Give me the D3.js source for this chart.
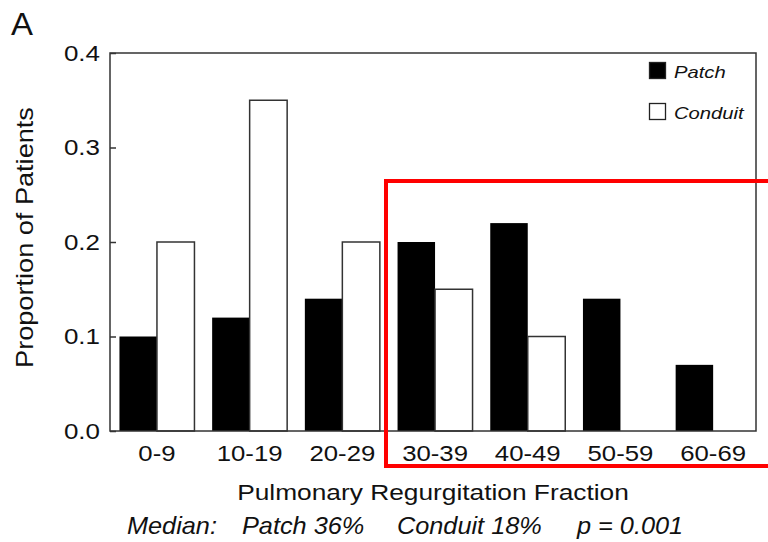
<!DOCTYPE html>
<html>
<head>
<meta charset="utf-8">
<script src="https://cdn.jsdelivr.net/npm/d3@7"></script>
<style>
  html, body { margin: 0; padding: 0; background: #fff; }
  svg { display: block; }
  text { font-family: "Liberation Sans", Arial, Helvetica, sans-serif; fill: #111; }
</style>
</head>
<body>
<svg id="chart" width="768" height="542"></svg>
<script>
// Pulmonary regurgitation fraction bins
const categories = ["0-9", "10-19", "20-29", "30-39", "40-49", "50-59", "60-69"];
// Proportion of patients per bin
const patchValues   = [0.10, 0.12, 0.14, 0.20, 0.22, 0.14, 0.07];
const conduitValues = [0.20, 0.35, 0.20, 0.15, 0.10, 0.00, 0.00];
const yTicks = [0.0, 0.1, 0.2, 0.3, 0.4];
const seriesNames = ["Patch", "Conduit"];

const svg = d3.select("#chart");

// Plot frame
const frame = { left: 110, right: 756, top: 53, bottom: 431 };

const x = d3.scaleBand().domain(categories).range([110.6, 759.5]).padding(0);
const y = d3.scaleLinear().domain([0, 0.4]).range([frame.bottom, frame.top]);
const barW = 37.5;

// Text with a wide set: the glyphs are widened along the baseline
function wideText(parent, px, py, str, opts) {
  const o = Object.assign({ size: 22, sx: 1.15, anchor: "start", italic: false, rotate: 0 }, opts);
  const grp = parent.append("g")
    .attr("transform", `translate(${px},${py}) rotate(${o.rotate}) scale(${o.sx},1)`);
  return grp.append("text")
    .attr("text-anchor", o.anchor)
    .style("font-size", o.size + "px")
    .style("font-style", o.italic ? "italic" : "normal")
    .text(str);
}

// Panel letter
wideText(svg, 11, 35, "A", { size: 32, sx: 1.03 });

// Bars: Patch (filled) and Conduit (open)
const g = svg.append("g");
g.selectAll("rect.patch").data(categories).join("rect")
  .attr("class", "patch")
  .attr("x", (d) => x(d) + x.bandwidth() / 2 - barW)
  .attr("y", (d, i) => y(patchValues[i]))
  .attr("width", barW)
  .attr("height", (d, i) => y(0) - y(patchValues[i]))
  .attr("fill", "#000");

g.selectAll("rect.conduit").data(categories.filter((d, i) => conduitValues[i] > 0)).join("rect")
  .attr("class", "conduit")
  .attr("x", (d) => x(d) + x.bandwidth() / 2)
  .attr("y", (d) => y(conduitValues[categories.indexOf(d)]))
  .attr("width", barW)
  .attr("height", (d) => y(0) - y(conduitValues[categories.indexOf(d)]))
  .attr("fill", "#fff")
  .attr("stroke", "#333")
  .attr("stroke-width", 1.5);

// Frame box
svg.append("rect")
  .attr("x", frame.left).attr("y", frame.top)
  .attr("width", frame.right - frame.left).attr("height", frame.bottom - frame.top)
  .attr("fill", "none").attr("stroke", "#333").attr("stroke-width", 1.5);

// Y axis with inward ticks
const ySx = 1.18;
const yAxis = svg.append("g").attr("transform", `translate(${frame.left},0)`)
  .call(d3.axisLeft(y).tickValues(yTicks).tickFormat(d3.format(".1f"))
    .tickSizeInner(-6).tickSizeOuter(0).tickPadding(10));
yAxis.select(".domain").remove();
yAxis.selectAll(".tick line").attr("stroke", "#333").attr("stroke-width", 1.5);
yAxis.selectAll(".tick text")
  .attr("x", -10 / ySx)
  .attr("transform", `scale(${ySx},1)`)
  .style("font-size", "22px").attr("fill", "#111")
  .style("font-family", '"Liberation Sans", Arial, sans-serif');

// X axis category labels
const xSx = 1.12;
const xAxis = svg.append("g").attr("transform", `translate(0,${frame.bottom})`)
  .call(d3.axisBottom(x).tickSize(0).tickPadding(14));
xAxis.select(".domain").remove();
xAxis.selectAll(".tick text")
  .attr("transform", `scale(${xSx},1)`)
  .style("font-size", "23px").attr("fill", "#111")
  .style("font-family", '"Liberation Sans", Arial, sans-serif');

// Axis titles
wideText(svg, 32.5, 237.5, "Proportion of Patients",
  { size: 23, sx: 1.18, anchor: "middle", rotate: -90 });
wideText(svg, 433, 499.5, "Pulmonary Regurgitation Fraction",
  { size: 22.3, sx: 1.18, anchor: "middle" });

// Median summary line
const medianParts = [
  { x: 127, t: "Median:" },
  { x: 242, t: "Patch 36%" },
  { x: 397, t: "Conduit 18%" },
  { x: 577, t: "p = 0.001" }
];
medianParts.forEach((p) => wideText(svg, p.x, 534, p.t, { size: 23, sx: 1.1, italic: true }));

// Legend
seriesNames.forEach((name, i) => {
  const ly = 62 + i * 41;
  svg.append("rect")
    .attr("x", 649.5).attr("y", ly + 0.5).attr("width", 16).attr("height", 16)
    .attr("fill", i === 0 ? "#000" : "#fff")
    .attr("stroke", "#222").attr("stroke-width", 1.3);
  wideText(svg, 674, ly + 15.5, name, { size: 17, sx: 1.19, italic: true });
});

// Highlight box around the upper bins
svg.append("rect")
  .attr("x", 386).attr("y", 181)
  .attr("width", 400).attr("height", 285)
  .attr("fill", "none").attr("stroke", "#ff0000").attr("stroke-width", 4);
</script>
</body>
</html>
